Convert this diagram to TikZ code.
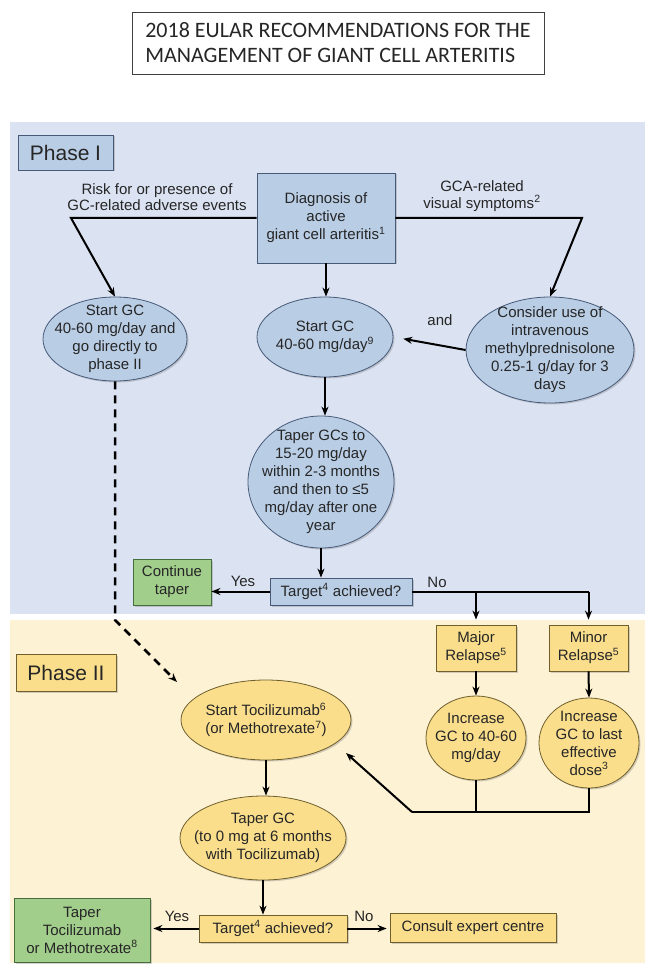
\documentclass[tikz,border=0pt]{standalone}
\usepackage{fontspec}
\setmainfont{Liberation Sans}
\newfontfamily\titlefont{Carlito}
\usepackage{tikz}
\usetikzlibrary{arrows.meta,shapes.geometric,shadows}

\definecolor{bandblue}{RGB}{219,226,242}
\definecolor{boxblue}{RGB}{185,205,229}
\definecolor{blueline}{RGB}{70,90,120}
\definecolor{bandyellow}{RGB}{254,242,212}
\definecolor{boxyellow}{RGB}{250,222,140}
\definecolor{yellowline}{RGB}{110,95,45}
\definecolor{boxgreen}{RGB}{162,206,140}
\definecolor{greenline}{RGB}{70,110,60}

\begin{document}
\begin{tikzpicture}[x=1pt, y=-1pt, >=Stealth,
    every node/.style={font=\fontsize{15}{18}\selectfont, text=black!85},
    shade/.style={drop shadow={shadow xshift=1.5pt, shadow yshift=-1.5pt, opacity=0.35}},
    bluebox/.style={rectangle, draw=blueline, fill=boxblue, line width=0.8pt, align=center, inner sep=2pt, shade},
    blueell/.style={ellipse, draw=blueline, fill=boxblue, line width=0.8pt, align=center, inner sep=-12pt, shade},
    yelbox/.style={rectangle, draw=yellowline, fill=boxyellow, line width=0.8pt, align=center, inner sep=2pt, shade},
    yelell/.style={ellipse, draw=yellowline, fill=boxyellow, line width=0.8pt, align=center, inner sep=-12pt, shade},
    greenbox/.style={rectangle, draw=greenline, fill=boxgreen, line width=0.8pt, align=center, inner sep=2pt, shade},
    phasebox/.style={font=\fontsize{21}{24}\selectfont},
    lbl/.style={align=center, font=\fontsize{15}{16.5}\selectfont},
    line/.style={line width=2pt, line join=miter},
    arr/.style={line, -{Stealth[length=9pt, width=7pt]}},
    dasharr/.style={arr, line width=2.5pt, dash pattern=on 8pt off 6pt}]

    %% Background
    \useasboundingbox (0,0) rectangle (645,965);
    \fill[white] (0,0) rectangle (645,965);

    % Phase bands
    \fill[bandblue] (10,122) rectangle (645,614);
    \fill[bandyellow] (10,620) rectangle (645,963);

    % Title
    \node[draw=black!75, fill=white, line width=0.8pt, minimum width=412pt, minimum height=62pt,
        align=left, font=\titlefont\fontsize{22}{25}\selectfont] (title) at (338,43)
        {2018 EULAR RECOMMENDATIONS FOR THE\\MANAGEMENT OF GIANT CELL ARTERITIS};

    % Phase I
    \node[bluebox, phasebox, minimum width=95pt, minimum height=35pt] (ph1) at (65.5,152.5) {Phase I};
    \node[bluebox, minimum width=138pt, minimum height=90pt] (diag) at (326,218)
        {Diagnosis of\\active\\giant cell arteritis\textsuperscript{1}};
    \node[lbl] (risk) at (157,197) {Risk for or presence of\\GC-related adverse events};
    \node[lbl] (gca) at (482,196) {GCA-related\\visual symptoms\textsuperscript{2}};

    \node[blueell, minimum width=144pt, minimum height=84pt] (lell) at (115,339)
        {Start GC\\40-60 mg/day and\\go directly to\\phase II};
    \node[blueell, minimum width=136pt, minimum height=80pt] (mell) at (325,337)
        {Start GC\\40-60 mg/day\textsuperscript{9}};
    \node[blueell, minimum width=168pt, minimum height=106pt] (rell) at (550,350)
        {Consider use of\\intravenous\\methylprednisolone\\0.25-1 g/day for 3\\days};
    \node[lbl] (and) at (440,320) {and};
    \node[blueell, minimum width=146pt, minimum height=132pt] (taper) at (321,482)
        {Taper GCs to\\15-20 mg/day\\within 2-3 months\\and then to ≤5\\mg/day after one\\year};

    \node[bluebox, minimum width=142pt, minimum height=27pt] (tgt1) at (341,591.5) {Target\textsuperscript{4} achieved?};
    \node[greenbox, minimum width=78pt, minimum height=46pt] (cont) at (172,582) {Continue\\taper};
    \node[lbl] (yes1) at (243,581) {Yes};
    \node[lbl] (no1) at (437,582) {No};

    \coordinate (lcorner) at (71,218);
    \coordinate (rcorner) at (582,218);
    \coordinate (dashbend) at (115,620);
    \coordinate (dashtip) at (177,682);

    \draw[arr] (diag.west) -- (lcorner) -- (lell.north);
    \draw[arr] (diag.east) -- (rcorner) -- (rell.north);
    \draw[arr] (diag.south) -- (diag.south |- mell.north);
    \draw[arr, shorten >=10pt] (rell.west) -- (mell.east);
    \draw[arr] (mell.south) -- (mell.south |- taper.north);
    \draw[arr] (taper.south) -- (taper.south |- tgt1.north);
    \draw[arr] (tgt1.west) -- (cont.east |- tgt1.west);

    % Phase II
    \node[yelbox, phasebox, minimum width=100pt, minimum height=37pt] (ph2) at (66,672.5) {Phase II};
    \node[yelbox, minimum width=80pt, minimum height=46pt] (major) at (476,648) {Major\\Relapse\textsuperscript{5}};
    \node[yelbox, minimum width=79pt, minimum height=46pt] (minor) at (588.5,648) {Minor\\Relapse\textsuperscript{5}};
    \node[yelell, minimum width=100pt, minimum height=84pt] (inc1) at (476,738)
        {Increase\\GC to 40-60\\mg/day};
    \node[yelell, minimum width=100pt, minimum height=90pt] (inc2) at (589,743)
        {Increase\\GC to last\\effective\\dose\textsuperscript{3}};
    \node[yelell, minimum width=170pt, minimum height=80pt] (toci) at (266,720)
        {Start Tocilizumab\textsuperscript{6}\\(or Methotrexate\textsuperscript{7})};
    \node[yelell, minimum width=166pt, minimum height=84pt] (tgc) at (263,838)
        {Taper GC\\(to 0 mg at 6 months\\with Tocilizumab)};
    \node[yelbox, minimum width=148pt, minimum height=27pt] (tgt2) at (273,928.5) {Target\textsuperscript{4} achieved?};
    \node[yelbox, minimum width=166pt, minimum height=29pt] (consult) at (473,927.5) {Consult expert centre};
    \node[greenbox, minimum width=136pt, minimum height=64pt] (ttoci) at (82,930)
        {Taper\\Tocilizumab\\or Methotrexate\textsuperscript{8}};
    \node[lbl] (yes2) at (177,916) {Yes};
    \node[lbl] (no2) at (364,916) {No};

    \coordinate (nosplit) at (major.north |- tgt1.east);
    \coordinate (nocorner) at (minor.north |- tgt1.east);
    \coordinate (jl) at (412,812);
    \coordinate (jr) at (589,812);
    \coordinate (tocitip) at (346,753);

    % relapse branches
    \draw[line] (tgt1.east) -- (nocorner);
    \draw[arr, shorten >=5pt] (nocorner) -- (minor.north);
    \draw[arr, shorten >=5pt] (nosplit) -- (major.north);
    \draw[arr] (major.south) -- (inc1.north);
    \draw[arr] (minor.south) -- (inc2.north);
    \draw[line] (inc1.south) -- (inc1.south |- jl);
    \draw[line] (inc2.south) -- (jr) -- (jl);
    \draw[arr] (jl) -- (tocitip);

    \draw[dasharr] (lell.south) -- (dashbend) -- (dashtip);
    \draw[arr] (toci.south) -- (toci.south |- tgc.north);
    \draw[arr] (tgc.south) -- (tgc.south |- tgt2.north);
    \draw[arr, shorten >=3pt] (tgt2.west) -- (ttoci.east |- tgt2.west);
    \draw[arr, shorten >=3pt] (tgt2.east) -- (consult.west |- tgt2.east);

\end{tikzpicture}
\end{document}
